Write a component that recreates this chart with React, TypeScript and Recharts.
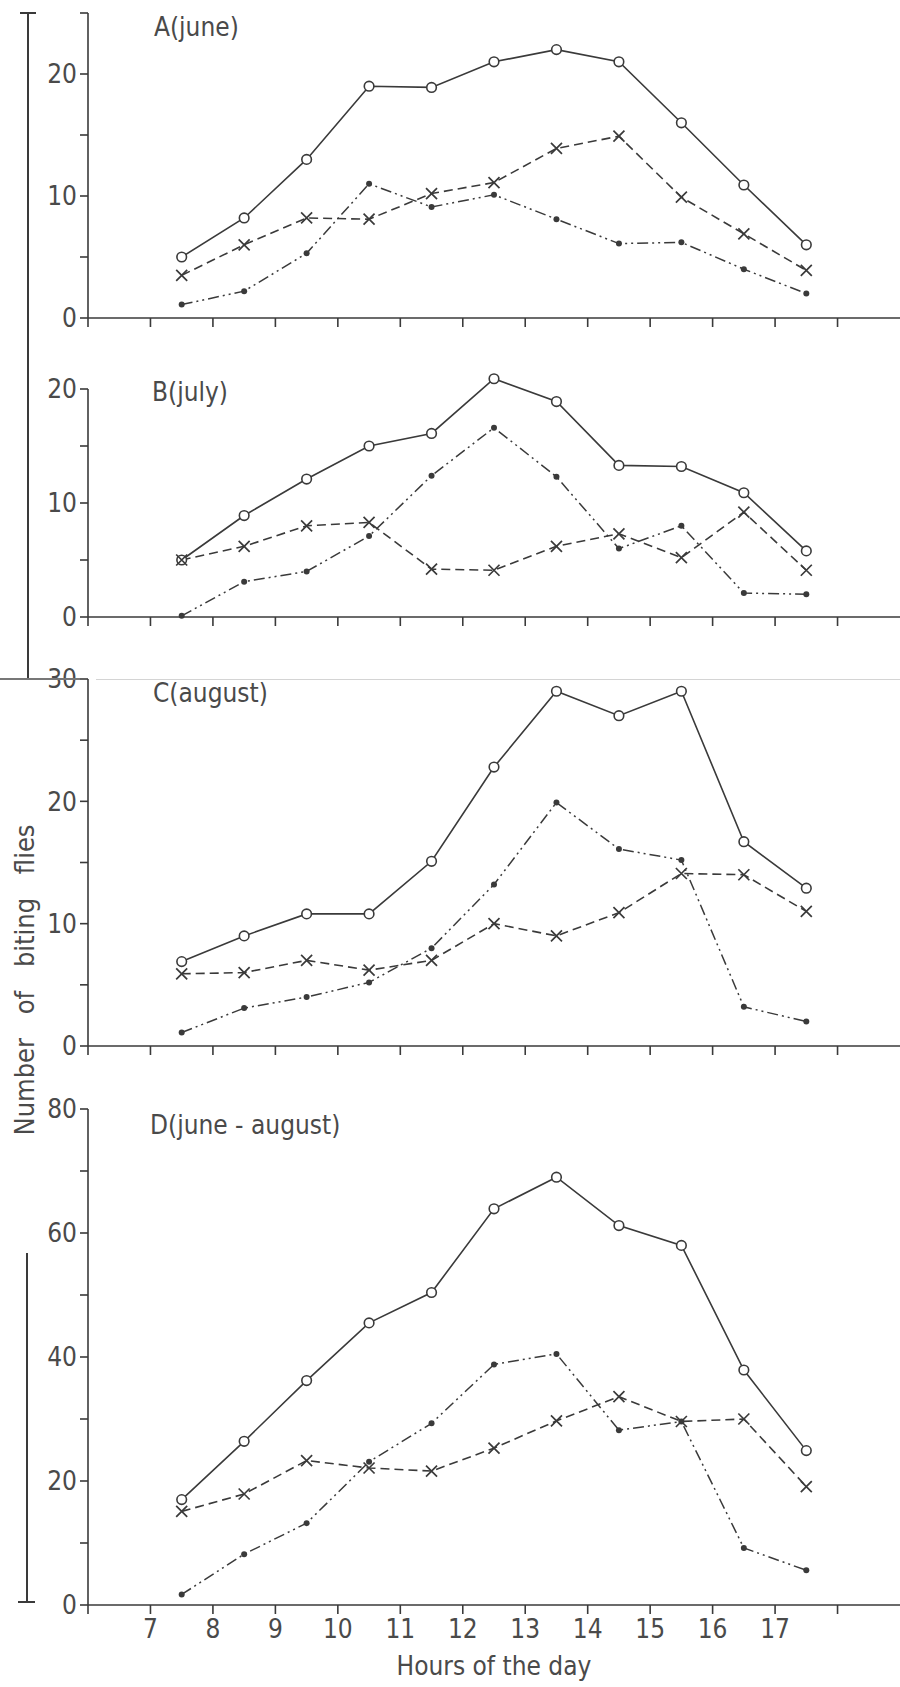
import { Line, LineChart, ReferenceLine, XAxis, YAxis } from "recharts";

// half-hour midpoints of the sampling periods
const hours = [7.5, 8.5, 9.5, 10.5, 11.5, 12.5, 13.5, 14.5, 15.5, 16.5, 17.5];
const hourTicks = [6, 7, 8, 9, 10, 11, 12, 13, 14, 15, 16, 17, 18];
const hourLabels = [7, 8, 9, 10, 11, 12, 13, 14, 15, 16, 17];

// A (june)
const juneOpen = [5, 8.2, 13, 19, 18.9, 21, 22, 21, 16, 10.9, 6];
const juneCross = [3.5, 6, 8.2, 8.1, 10.2, 11.1, 13.9, 14.9, 9.9, 6.9, 3.9];
const juneDot = [1.1, 2.2, 5.3, 11, 9.1, 10.1, 8.1, 6.1, 6.2, 4, 2];

// B (july)
const julyOpen = [5, 8.9, 12.1, 15, 16.1, 20.9, 18.9, 13.3, 13.2, 10.9, 5.8];
const julyCross = [5, 6.2, 8, 8.3, 4.2, 4.1, 6.2, 7.3, 5.2, 9.2, 4.1];
const julyDot = [0.1, 3.1, 4, 7.1, 12.4, 16.6, 12.3, 6, 8, 2.1, 2];

// C (august)
const augOpen = [6.9, 9, 10.8, 10.8, 15.1, 22.8, 29, 27, 29, 16.7, 12.9];
const augCross = [5.9, 6, 7, 6.2, 7, 10, 9, 10.9, 14.1, 14, 11];
const augDot = [1.1, 3.1, 4, 5.2, 8, 13.2, 19.9, 16.1, 15.2, 3.2, 2];

// D (june - august)
const allOpen = [17, 26.4, 36.2, 45.5, 50.4, 63.9, 69, 61.2, 58, 37.9, 24.9];
const allCross = [15.1, 17.9, 23.3, 22.1, 21.6, 25.3, 29.7, 33.6, 29.6, 30, 19.1];
const allDot = [1.7, 8.2, 13.2, 23.1, 29.3, 38.8, 40.5, 28.2, 29.6, 9.2, 5.6];

const INK = "#3a3a3a";
const TEXT = "#4a4a4a";
const FONT = "'DejaVu Sans Condensed', 'Liberation Sans Narrow', 'DejaVu Sans', sans-serif";

const toRows = (open: number[], cross: number[], dot: number[]) =>
  hours.map((h, i) => ({ h, open: open[i], cross: cross[i], dot: dot[i] }));

function OpenDot(p: any) {
  if (p.cx == null || p.cy == null) return null;
  return <circle key={p.index} cx={p.cx} cy={p.cy} r={4.8} fill="#fff" stroke={INK} strokeWidth={1.6} />;
}

function CrossDot(p: any) {
  if (p.cx == null || p.cy == null) return null;
  const s = 5.5;
  return (
    <path
      key={p.index}
      d={`M${p.cx - s},${p.cy - s}L${p.cx + s},${p.cy + s}M${p.cx - s},${p.cy + s}L${p.cx + s},${p.cy - s}`}
      stroke={INK}
      strokeWidth={1.7}
      fill="none"
    />
  );
}

function FilledDot(p: any) {
  if (p.cx == null || p.cy == null) return null;
  return <circle key={p.index} cx={p.cx} cy={p.cy} r={3} fill={INK} stroke="none" />;
}

type PanelProps = {
  rows: ReturnType<typeof toRows>;
  top: number;
  height: number;
  marginTop: number;
  axisHeight: number;
  yMax: number;
  domainMax: number;
  yTicks: number[];
  labelStep: number;
  bottom?: boolean;
};

function Panel({ rows, top, height, marginTop, axisHeight, yMax, domainMax, yTicks, labelStep, bottom }: PanelProps) {
  const tickStyle = { fill: TEXT, fontSize: 26, fontFamily: FONT };
  return (
    <div style={{ position: "absolute", left: 0, top }}>
      <LineChart width={900} height={height} data={rows} margin={{ top: marginTop, right: 0, left: 0, bottom: 0 }}>
        <XAxis
          type="number"
          dataKey="h"
          domain={[6, 19]}
          ticks={hourTicks}
          interval={0}
          stroke={INK}
          strokeWidth={1.6}
          tickSize={9}
          tickMargin={6}
          height={axisHeight}
          tick={tickStyle}
          tickFormatter={(v) => (bottom && hourLabels.includes(Number(v)) ? String(v) : "")}
          label={
            bottom
              ? { value: "Hours of the day", position: "insideBottom", offset: 10, fill: TEXT, fontSize: 26, fontFamily: FONT }
              : undefined
          }
        />
        <YAxis
          type="number"
          domain={[0, domainMax]}
          ticks={yTicks}
          interval={0}
          width={88}
          axisLine={false}
          stroke={INK}
          strokeWidth={1.6}
          tickSize={8}
          tickMargin={3}
          tick={tickStyle}
          tickFormatter={(v) => (Number(v) % labelStep === 0 ? String(v) : "")}
        />
        <ReferenceLine
          segment={[
            { x: 6, y: 0 },
            { x: 6, y: yMax },
          ]}
          stroke={INK}
          strokeWidth={1.6}
        />
        <Line
          type="linear"
          dataKey="open"
          stroke={INK}
          strokeWidth={1.6}
          dot={OpenDot}
          activeDot={false}
          isAnimationActive={false}
        />
        <Line
          type="linear"
          dataKey="cross"
          stroke={INK}
          strokeWidth={1.6}
          strokeDasharray="9 5"
          dot={CrossDot}
          activeDot={false}
          isAnimationActive={false}
        />
        <Line
          type="linear"
          dataKey="dot"
          stroke={INK}
          strokeWidth={1.5}
          strokeDasharray="11 4 2 4 2 4"
          dot={FilledDot}
          activeDot={false}
          isAnimationActive={false}
        />
      </LineChart>
    </div>
  );
}

function Title({ text, left, cy }: { text: string; left: number; cy: number }) {
  return (
    <div
      style={{
        position: "absolute",
        left,
        top: cy - 15,
        fontFamily: FONT,
        fontSize: 26,
        lineHeight: "30px",
        color: TEXT,
        whiteSpace: "nowrap",
      }}
    >
      {text}
    </div>
  );
}

function Rule({ left, top, width, height, color = INK }: { left: number; top: number; width: number; height: number; color?: string }) {
  return <div style={{ position: "absolute", left, top, width, height, background: color }} />;
}

export default function App() {
  return (
    <div style={{ position: "absolute", left: 0, top: 0, width: 900, height: 1687, background: "#fff", overflow: "hidden" }}>
      <Panel
        rows={toRows(juneOpen, juneCross, juneDot)}
        top={0}
        height={348}
        marginTop={13}
        axisHeight={30}
        yMax={25}
        domainMax={25}
        yTicks={[0, 5, 10, 15, 20, 25]}
        labelStep={10}
      />
      <Panel
        rows={toRows(julyOpen, julyCross, julyDot)}
        top={360}
        height={287}
        marginTop={17.6}
        axisHeight={30}
        yMax={20}
        domainMax={21}
        yTicks={[0, 5, 10, 15, 20]}
        labelStep={10}
      />
      <Panel
        rows={toRows(augOpen, augCross, augDot)}
        top={650}
        height={426}
        marginTop={29}
        axisHeight={30}
        yMax={30}
        domainMax={30}
        yTicks={[0, 5, 10, 15, 20, 25, 30]}
        labelStep={10}
      />
      <Panel
        rows={toRows(allOpen, allCross, allDot)}
        top={1080}
        height={605}
        marginTop={29}
        axisHeight={80}
        yMax={80}
        domainMax={80}
        yTicks={[0, 10, 20, 30, 40, 50, 60, 70, 80]}
        labelStep={20}
        bottom
      />

      <Title text="A(june)" left={154} cy={27} />
      <Title text="B(july)" left={152} cy={392} />
      <Title text="C(august)" left={153} cy={693} />
      <Title text="D(june - august)" left={150} cy={1125} />

      {/* arrows along the left margin */}
      <Rule left={27} top={13} width={2} height={666} />
      <Rule left={20} top={12} width={16} height={2} />
      <Rule left={0} top={678} width={80} height={1.5} color="#777" />
      <Rule left={96} top={679} width={804} height={1} color="#d4d4d4" />
      <Rule left={26} top={1253} width={2} height={350} />
      <Rule left={18} top={1601} width={17} height={2} />

      <div
        style={{
          position: "absolute",
          left: 24,
          top: 980,
          transform: "translate(-50%, -50%) rotate(-90deg)",
          fontFamily: FONT,
          fontSize: 27,
          color: TEXT,
          whiteSpace: "nowrap",
          wordSpacing: 16,
        }}
      >
        Number of biting flies
      </div>
    </div>
  );
}
